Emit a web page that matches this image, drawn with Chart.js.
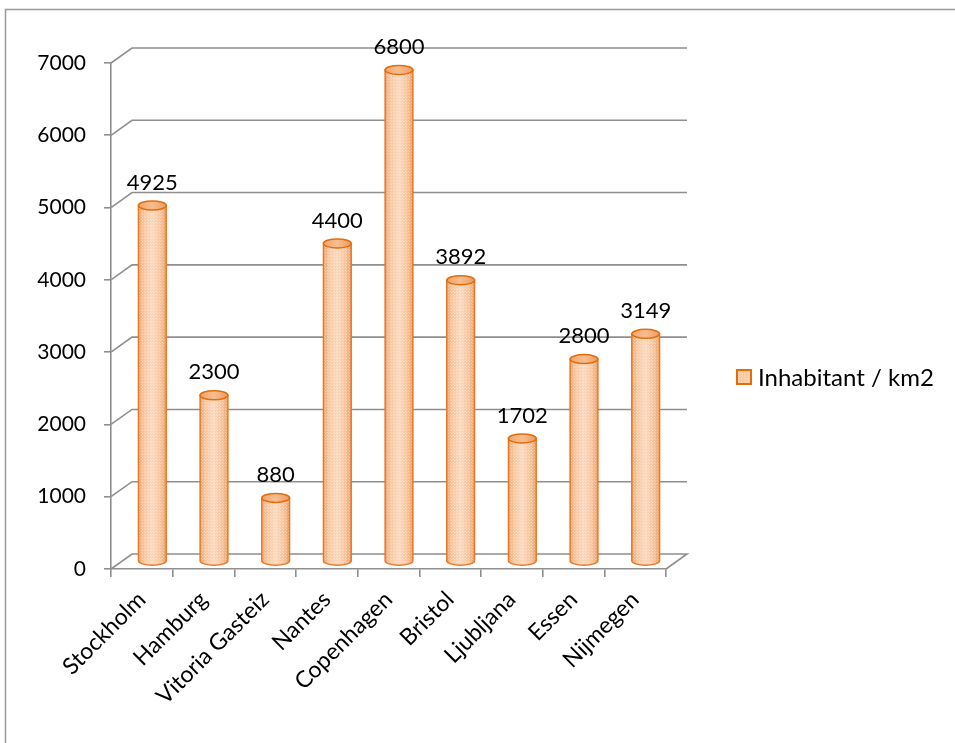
<!doctype html>
<html lang="en">
<head>
  <meta charset="UTF-8">
  <title>Inhabitant / km2</title>
  <script src="https://cdn.jsdelivr.net/npm/chart.js@4/dist/chart.umd.min.js"></script>
  <style>
    html, body { margin: 0; padding: 0; background: #fff; }
  </style>
</head>
<body>
  <canvas id="canvas" width="955" height="743"></canvas>
  <script>
    const cities = ['Stockholm', 'Hamburg', 'Vitoria Gasteiz', 'Nantes', 'Copenhagen', 'Bristol', 'Ljubljana', 'Essen', 'Nijmegen'];
    const density = [4925, 2300, 880, 4400, 6800, 3892, 1702, 2800, 3149];
    const seriesName = 'Inhabitant / km2';
    const yTicks = [0, 1000, 2000, 3000, 4000, 5000, 6000, 7000];

    const FONT = 'Lato, "Open Sans", sans-serif';
    const GRID = '#8f8f8f';
    const DX = 21, DY = -15;   // depth offset of the back wall

    // fine dotted texture like the office "dotted" fill
    const dots = document.createElement('canvas');
    dots.width = 3; dots.height = 3;
    const dctx = dots.getContext('2d');
    dctx.fillStyle = 'rgba(255,255,255,0.35)';
    dctx.fillRect(0, 0, 1, 1);
    dctx.fillRect(1, 1, 1, 1);

    const wallPlugin = {
      id: 'walls',
      beforeDraw(chart) {
        const ctx = chart.ctx;
        ctx.save();
        ctx.strokeStyle = '#9a9a9a';
        ctx.lineWidth = 1.5;
        ctx.strokeRect(5.5, 9.5, 1000, 800);
        ctx.restore();
      },
      beforeDatasetsDraw(chart) {
        const ctx = chart.ctx;
        const y = chart.scales.y;
        const { left, right } = chart.chartArea;
        ctx.save();
        ctx.strokeStyle = GRID;
        ctx.lineWidth = 1.6;
        yTicks.forEach(v => {
          const py = y.getPixelForValue(v);
          ctx.beginPath();
          ctx.moveTo(left, py);
          ctx.lineTo(left + DX, py + DY);
          ctx.lineTo(right + DX, py + DY);
          if (v === 0) ctx.lineTo(right, py);
          ctx.stroke();
        });
        ctx.restore();
      }
    };

    const cylinderPlugin = {
      id: 'cylinders',
      afterDatasetsDraw(chart) {
        const ctx = chart.ctx;
        const meta = chart.getDatasetMeta(0);
        const pattern = ctx.createPattern(dots, 'repeat');
        meta.data.forEach((bar, i) => {
          const cx = bar.x + DX / 2;
          const top = bar.y + DY / 2;
          const base = bar.base + DY / 2;
          const w = bar.width;
          const l = cx - w / 2, r = cx + w / 2;
          const ry = 4.5;

          const g = ctx.createLinearGradient(l, 0, r, 0);
          g.addColorStop(0, '#f2a66c');
          g.addColorStop(0.2, '#f8c8a2');
          g.addColorStop(0.5, '#fbd9be');
          g.addColorStop(0.8, '#f7c39c');
          g.addColorStop(1, '#ef9f62');

          ctx.save();
          ctx.beginPath();
          ctx.moveTo(l, top);
          ctx.lineTo(l, base);
          ctx.ellipse(cx, base, w / 2, ry, 0, Math.PI, 0, true);
          ctx.lineTo(r, top);
          ctx.closePath();
          ctx.fillStyle = g;
          ctx.fill();
          ctx.fillStyle = pattern;
          ctx.fill();
          ctx.strokeStyle = '#e8782a';
          ctx.lineWidth = 1.5;
          ctx.stroke();

          ctx.beginPath();
          ctx.ellipse(cx, top, w / 2, ry, 0, 0, Math.PI * 2);
          const cg = ctx.createLinearGradient(l, 0, r, 0);
          cg.addColorStop(0, '#f3a66e');
          cg.addColorStop(0.5, '#f7bd90');
          cg.addColorStop(1, '#ee9c60');
          ctx.fillStyle = cg;
          ctx.fill();
          ctx.strokeStyle = '#e46c0a';
          ctx.stroke();

          ctx.fillStyle = '#000';
          ctx.font = '22px ' + FONT;
          ctx.textAlign = 'center';
          ctx.textBaseline = 'middle';
          ctx.fillText(String(density[i]), cx, top - 23);
          ctx.restore();
        });
      },
      afterDraw(chart) {
        const ctx = chart.ctx;
        ctx.save();
        ctx.fillStyle = '#f9c9a2';
        ctx.fillRect(737, 370, 14, 14);
        ctx.fillStyle = ctx.createPattern(dots, 'repeat');
        ctx.fillRect(737, 370, 14, 14);
        ctx.strokeStyle = '#e46c0a';
        ctx.lineWidth = 2;
        ctx.strokeRect(737, 370, 14, 14);
        ctx.fillStyle = '#000';
        ctx.font = '24px ' + FONT;
        ctx.textAlign = 'left';
        ctx.textBaseline = 'middle';
        ctx.fillText(seriesName, 758, 378);
        ctx.restore();
      }
    };

    new Chart(document.getElementById('canvas'), {
      type: 'bar',
      data: {
        labels: cities,
        datasets: [{
          label: seriesName,
          data: density,
          backgroundColor: 'rgba(0,0,0,0)',
          borderWidth: 0,
          categoryPercentage: 1,
          barPercentage: 0.45
        }]
      },
      options: {
        responsive: false,
        animation: false,
        layout: { padding: { top: 63, right: 289, left: 0, bottom: 0 } },
        plugins: {
          legend: { display: false },
          tooltip: { enabled: false }
        },
        scales: {
          x: {
            afterFit: s => { s.height = 174; },
            grid: { drawOnChartArea: false, drawTicks: true, tickLength: 8, color: GRID, lineWidth: 1.6, offset: true },
            border: { display: true, color: GRID, width: 1.6 },
            ticks: { minRotation: 45, maxRotation: 45, color: '#000', font: { family: FONT, size: 23 }, padding: 9 }
          },
          y: {
            min: 0,
            max: 7000,
            afterFit: s => { s.width = 111; },
            afterBuildTicks: s => { s.ticks = yTicks.map(v => ({ value: v })); },
            grid: { drawOnChartArea: false, drawTicks: true, tickLength: 7, color: GRID, lineWidth: 1.6 },
            border: { display: true, color: GRID, width: 1.6 },
            ticks: { color: '#000', font: { family: FONT, size: 21 }, padding: 18, callback: v => String(v) }
          }
        }
      },
      plugins: [wallPlugin, cylinderPlugin]
    });
  </script>
</body>
</html>
